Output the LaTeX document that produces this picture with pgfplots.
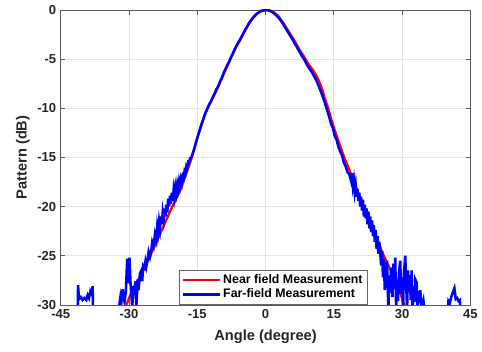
\documentclass[border=0pt]{standalone}
\usepackage{pgfplots}
\pgfplotsset{compat=1.18}
\usepackage{pgfplotstable}
\usepackage{fontspec}
\setmainfont{Liberation Sans}

\pgfplotstableread{
x y
-30.6 -30
-29.2 -28.4
-27.3 -26.9
-25.5 -25.2
-23.0 -22.6
-20.8 -20.3
-18.6 -18.2
-16.4 -15.3
-14.9 -12.9
-13.4 -10.7
-12.4 -9.7
-11.2 -8.6
-10.2 -7.6
-8.9 -6.2
-7.6 -4.9
-6.5 -3.8
-5.4 -2.9
-4.5 -2.1
-3.6 -1.35
-2.7 -0.8
-1.8 -0.35
-0.8 -0.08
0.5 0
1.6 -0.15
2.7 -0.55
3.9 -1.3
5.1 -2.2
6.2 -3.0
7.3 -3.9
8.4 -4.7
9.5 -5.55
10.4 -6.1
11.3 -6.8
12.0 -7.5
12.6 -8.3
13.1 -9.1
13.7 -9.9
14.5 -11.2
15.4 -12.5
16.3 -13.7
17.2 -14.9
18.2 -16.0
19.2 -17.2
20.2 -18.4
21.2 -19.6
22.3 -20.7
23.4 -21.8
24.5 -23.2
25.6 -24.6
26.5 -25.5
27.4 -26.4
28.9 -28.0
30.4 -29.8
30.6 -30
}\nearfield

\pgfplotstableread{
x y
-45 -31
-41.3 -31
-41.2 -28.0
-41.0 -29.4
-40.6 -29.2
-40.2 -29.5
-39.8 -29.3
-39.4 -29.5
-39.1 -29.0
-38.8 -29.3
-38.5 -28.6
-38.2 -28.9
-38.0 -28.1
-37.9 -31
-32.2 -31
-32.1 -29.9
-31.9 -29.2
-31.7 -29.8
-31.4 -28.4
-31.2 -29.4
-31.0 -29.7
-30.7 -28.6
-30.4 -25.3
-30.2 -27.8
-29.9 -25.2
-29.7 -27.5
-29.5 -28.9
-29.3 -30.2
-29.0 -28.1
-28.8 -29.0
-28.6 -27.6
-28.4 -30.2
-28.1 -27.4
-27.9 -28.5
-27.6 -26.8
-27.3 -26.5
-27.1 -27.6
-26.9 -26.0
-26.6 -26.2
-26.4 -25.6
-26.2 -26.1
-25.9 -25.3
-25.7 -24.6
-25.4 -25.1
-25.1 -24.4
-24.9 -23.6
-24.6 -24.0
-24.3 -22.8
-24.0 -23.4
-23.8 -22.0
-23.6 -22.6
-23.4 -21.5
-23.2 -22.2
-23.0 -21.0
-22.8 -21.8
-22.6 -20.6
-22.4 -21.3
-22.2 -20.2
-22.0 -21.0
-21.8 -19.8
-21.6 -20.6
-21.4 -19.2
-21.2 -20.0
-21.0 -18.9
-20.8 -19.7
-20.6 -18.6
-20.4 -19.4
-20.2 -18.3
-20.0 -19.0
-19.8 -18.0
-19.6 -18.6
-19.4 -17.7
-19.2 -18.2
-19.0 -17.4
-18.8 -17.9
-18.6 -17.2
-18.4 -17.6
-18.2 -16.9
-18.0 -17.1
-17.8 -16.4
-17.6 -16.6
-17.4 -15.9
-17.2 -16.1
-17.0 -15.5
-16.8 -15.6
-16.6 -15.1
-16.4 -15.1
-16.0 -14.6
-15.6 -14.0
-15.2 -13.3
-14.8 -12.7
-14.4 -12.1
-14.0 -11.5
-13.6 -11.0
-13.2 -10.45
-12.8 -10.05
-12.4 -9.6
-12.0 -9.3
-11.6 -8.85
-11.2 -8.5
-10.8 -8.05
-10.4 -7.75
-10.0 -7.25
-9.6 -6.9
-9.2 -6.4
-8.8 -6.0
-8.4 -5.6
-8.0 -5.25
-7.6 -4.8
-7.2 -4.45
-6.8 -4.0
-6.4 -3.65
-6.0 -3.3
-5.6 -3.0
-5.2 -2.65
-4.8 -2.3
-4.4 -1.95
-4.0 -1.65
-3.6 -1.3
-3.2 -1.05
-2.8 -0.8
-2.4 -0.6
-2.0 -0.42
-1.6 -0.28
-1.2 -0.15
-0.8 -0.08
-0.4 -0.03
0.0 0.0
0.4 -0.02
0.8 -0.08
1.2 -0.15
1.6 -0.25
2.0 -0.4
2.4 -0.58
2.8 -0.75
3.2 -1.0
3.6 -1.25
4.0 -1.55
4.4 -1.85
4.8 -2.15
5.2 -2.45
5.6 -2.75
6.0 -3.05
6.4 -3.4
6.8 -3.7
7.2 -4.05
7.6 -4.35
8.0 -4.7
8.4 -4.95
8.8 -5.3
9.2 -5.65
9.6 -5.95
10.0 -6.2
10.4 -6.5
10.8 -6.85
11.2 -7.2
11.6 -7.65
12.0 -8.1
12.4 -8.6
12.8 -9.1
13.2 -9.7
13.6 -10.3
14.0 -10.9
14.4 -11.6
14.8 -12.0
15.2 -12.8
15.6 -13.2
16.0 -13.9
16.4 -14.4
16.8 -14.8
17.2 -15.5
17.6 -15.9
18.0 -16.5
18.4 -16.7
18.8 -17.4
19.0 -16.6
19.2 -17.9
19.4 -17.3
19.6 -18.5
19.8 -17.8
20.0 -19.0
20.2 -18.2
20.4 -19.4
20.6 -18.6
20.8 -20.0
21.0 -19.0
21.2 -20.4
21.4 -19.3
21.6 -21.0
21.8 -19.8
22.0 -21.2
22.2 -20.2
22.4 -21.8
22.6 -20.5
22.8 -22.2
23.0 -21.0
23.2 -22.6
23.4 -21.4
23.6 -23.0
23.8 -21.9
24.0 -23.6
24.2 -22.4
24.4 -24.3
24.6 -23.0
24.8 -24.8
25.0 -23.6
25.2 -24.7
25.4 -26.0
25.6 -24.5
25.8 -27.2
26.0 -25.3
26.2 -28.5
26.4 -25.8
26.7 -25.7
26.9 -29.0
27.0 -30.5
27.2 -27.0
27.4 -28.8
27.6 -26.2
27.9 -29.2
28.1 -25.8
28.3 -28.4
28.5 -25.2
28.7 -30.5
28.9 -27.5
29.1 -29.6
29.3 -26.8
29.6 -25.5
29.8 -28.9
30.0 -27.2
30.2 -30.5
30.4 -26.9
30.7 -25.0
30.9 -27.8
31.1 -30.5
31.3 -26.5
31.5 -28.6
31.7 -27.0
31.9 -29.5
32.1 -26.5
32.3 -30.5
32.5 -28.2
32.7 -29.7
32.9 -27.4
33.2 -27.7
33.4 -30.5
33.6 -28.6
33.8 -29.8
34.0 -28.5
34.3 -30.5
34.7 -29.6
34.9 -30.5
35.1 -31
40.1 -31
40.2 -29.6
40.5 -29.8
40.8 -29.2
41.1 -28.8
41.5 -28.3
41.8 -29.4
42.1 -29.3
42.4 -29.6
42.7 -29.5
42.9 -31
45 -31
}\farfield

\begin{document}
\begin{tikzpicture}
\begin{axis}[
  scale only axis,
  width=308.25pt, height=222pt,
  xmin=-45, xmax=45, ymin=-30, ymax=0,
  xtick={-45,-30,...,45},
  ytick={-30,-25,...,0},
  grid=major,
  major grid style={gray!22, line width=0.5pt},
  axis line style={black!65, line width=0.6pt},
  tick style={black!65, line width=0.5pt},
  tick align=inside,
  major tick length=3.5pt,
  /pgf/number format/assume math mode=true,
  ticklabel style={font=\bfseries\fontsize{9.8}{11}\selectfont, text=black!85},
  xlabel={Angle (degree)},
  ylabel={Pattern (dB)},
  label style={font=\bfseries\fontsize{11}{13}\selectfont, text=black!85},
  xlabel style={at={(axis description cs:0.5,0)}, anchor=center, yshift=-24pt},
  ylabel style={at={(axis description cs:-0.0925,0.5)}, anchor=center},
  legend style={at={(0.519,0)}, anchor=south, font=\bfseries\fontsize{9.3}{10.5}\selectfont,
    draw=black!60, fill=white, line width=0.5pt, inner xsep=2pt, inner ysep=1.5pt, row sep=-1.5pt,
    cells={anchor=west}, nodes={inner xsep=1.5pt}},
  legend image code/.code={\draw[#1] (0cm,0cm) -- (0.97cm,0cm);},
]
\addplot[red, line width=1.7pt] table[x=x,y=y] {\nearfield};
\addlegendentry{Near field Measurement}
\addplot[blue, line width=1.9pt] table[x=x,y=y] {\farfield};
\addlegendentry{Far-field Measurement}
\end{axis}
\path ([shift={(-45.75pt,-35.25pt)}]current axis.south west) rectangle ([shift={(7.5pt,7.5pt)}]current axis.north east);
\end{tikzpicture}
\end{document}
